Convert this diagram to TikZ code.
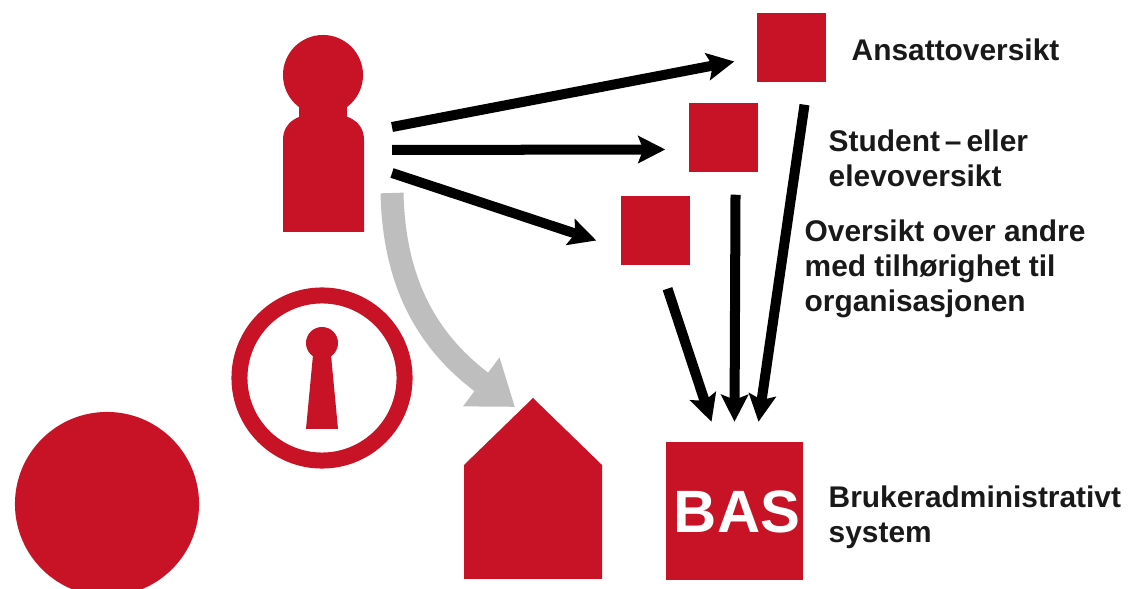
\documentclass[tikz,border=0pt]{standalone}
\usepackage{fontspec}
\setmainfont{Liberation Sans}
\usetikzlibrary{arrows.meta, calc, positioning}
\definecolor{basred}{RGB}{200,18,38}
\definecolor{arrowgray}{RGB}{190,190,190}

\begin{document}
\begin{tikzpicture}[
    x=0.01cm, y=-0.01cm,
    % Styles
    box/.style={ fill=basred, inner sep=0pt, minimum size=#1 },
    link/.style={ line width=0.1cm, draw=black, -{Stealth[length=0.27cm, width=0.27cm, inset=0.05cm]} },
    entry/.style={ font=\bfseries\fontsize{8.5}{9.9}\selectfont, text=black!90, align=left, anchor=west, inner sep=0pt },
  ]
  \useasboundingbox (0,0) rectangle (1128,589);

  % 1) Overview squares and BAS box
  \node[box=0.69cm] (ansatt)  at (791.5,47.5) {};
  \node[box=0.69cm] (student) at (723.5,137.5) {};
  \node[box=0.69cm] (andre)   at (655.5,230.5) {};
  \node[box=1.37cm] (bas) at (734.5,511) {};
  \node[text=white, inner sep=0pt, font=\bfseries\fontsize{17}{20}\selectfont] (bastext) at (737,512) {BAS};

  % 2) Person
  \fill[basred] (323,75) circle (0.4cm);
  \fill[basred] (299,100) rectangle (347,120);
  \fill[basred] (283,232) -- (283,140) .. controls (283,122) and (298,113) .. (323,113)
  .. controls (349,113) and (364,122) .. (364,140) -- (364,232) -- cycle;
  \coordinate (personA) at (392,127);
  \coordinate (personB) at (392,150);
  \coordinate (personC) at (392,173);
  \coordinate (personD) at (392,193);

  % 3) Lock, circle and house
  \draw[basred, line width=0.16cm] (322,378) circle (0.825cm);
  \fill[basred] (322,343) circle (0.16cm);
  \fill[basred] (313,355) -- (331,355) -- (338,429) -- (306,429) -- cycle;
  \fill[basred] (107,504) circle (0.92cm);
  \fill[basred] (464,579) -- (464,465) -- (533,398) -- (602,465) -- (602,579) -- cycle;
  \coordinate (house) at (515,407);

  % 4) Arrows from the person
  \draw[link] (personA) -- ([shift={(-22,14)}]ansatt.west);
  \draw[link] (personB) -- ([shift={(-23,12)}]student.west);
  \draw[link] (personC) -- ([shift={(-24,10)}]andre.west);
  \draw[line width=0.23cm, draw=arrowgray, -{Triangle[length=0.42cm, width=0.58cm]}]
  (personD) .. controls (394,280) and (425,340) .. (house);

  % 5) Arrows to BAS
  \draw[link] ([shift={(12,23)}]andre.south) -- ([shift={(-23,-20)}]bas.north);
  \draw[link] ([shift={(1,-69)}]bas.north) ++(0,-178) -- ([shift={(0,-20)}]bas.north);
  \draw[link] ([shift={(13,22)}]ansatt.south) -- ([shift={(24,-20)}]bas.north);

  % 6) Labels
  \node[entry] (ansattlabel)  at (851,50)  {Ansattoversikt};
  \node[entry] (studentlabel) at (828,158) {Student\,--\,eller\\elevoversikt};
  \node[entry] (andrelabel)   at (804,269) {Oversikt over andre\\med tilhørighet til\\organisasjonen};
  \node[entry] (baslabel)     at (828,517) {Brukeradministrativt\\system};
\end{tikzpicture}
\end{document}
